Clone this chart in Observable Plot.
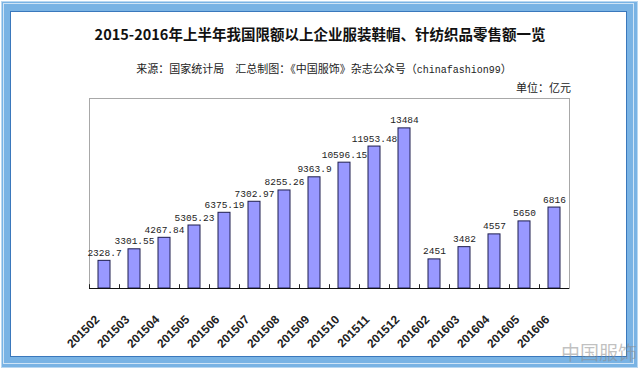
<!DOCTYPE html>
<html>
<head>
<meta charset="utf-8">
<script src="https://cdn.jsdelivr.net/npm/d3@7"></script>
<script src="https://cdn.jsdelivr.net/npm/@observablehq/plot@0.6"></script>
<style>
  html, body { margin: 0; padding: 0; background: #fff; }
  #page { position: relative; width: 640px; height: 370px; overflow: hidden; background: #fff; }
  #outer { position: absolute; left: 1px; top: 1px; width: 635px; height: 365px; background: #79b3e4; border: 1px solid #b8d7f1; }
  #band { position: absolute; left: 3px; top: 3px; width: 631px; height: 361px; border: 1px solid #cfe4f6; box-sizing: border-box; }
  #inner { position: absolute; left: 10px; top: 11px; width: 617px; height: 346px; background: #fff; border: 1.5px solid #3a78bc; box-sizing: border-box; }
  #chart { position: absolute; left: 0; top: 90px; }
  .t { position: absolute; white-space: nowrap; font-family: "Noto Sans CJK SC", sans-serif; color: #111; }
  #title { left: 0; width: 640px; text-align: center; top: 24px; font-size: 14.5px; font-weight: 700; line-height: 20px; }
  #subtitle { left: 0; width: 648px; text-align: center; top: 61px; font-size: 11px; line-height: 15px; color: #222; }
  #subtitle .lat { font-family: "Liberation Mono", monospace; font-size: 10px; }
  #unit { right: 69px; top: 80px; font-size: 11px; line-height: 15px; color: #222; }
  #wm { right: 3px; top: 340px; font-size: 19px; color: rgba(140,140,140,0.55); line-height: 24px; }
</style>
</head>
<body>
<div id="page">
  <div id="outer"></div>
  <div id="band"></div>
  <div id="inner"></div>
  <div id="chart"></div>
  <div class="t" id="title">2015-2016年上半年我国限额以上企业服装鞋帽、针纺织品零售额一览</div>
  <div class="t" id="subtitle">来源：国家统计局　汇总制图：《中国服饰》杂志公众号（<span class="lat">chinafashion99</span>）</div>
  <div class="t" id="unit">单位：亿元</div>
  <div class="t" id="wm">中国服饰</div>
</div>
<script>
const months = ["201502","201503","201504","201505","201506","201507","201508","201509","201510","201511","201512","201602","201603","201604","201605","201606"];
const values = [2328.7, 3301.55, 4267.84, 5305.23, 6375.19, 7302.97, 8255.26, 9363.9, 10596.15, 11953.48, 13484, 2451, 3482, 4557, 5650, 6816];
const valueLabels = ["2328.7","3301.55","4267.84","5305.23","6375.19","7302.97","8255.26","9363.9","10596.15","11953.48","13484","2451","3482","4557","5650","6816"];
const yDomain = [0, 16000];

const data = months.map((m, i) => ({month: m, value: values[i], label: valueLabels[i]}));

const chart = Plot.plot({
  width: 640,
  height: 270,
  marginTop: 8,
  marginBottom: 72,
  marginLeft: 89,
  marginRight: 71,
  style: {background: "transparent"},
  x: {type: "band", domain: months, paddingInner: 0.6, paddingOuter: 0.3, align: 0.5, axis: null},
  y: {domain: yDomain, axis: null},
  marks: [
    Plot.frame({stroke: "#a8a8a8", strokeWidth: 1}),
    Plot.barY(data, {x: "month", y: "value", fill: "#9999ff", stroke: "#1e1e4e", strokeWidth: 1}),
    Plot.ruleX(months, {x: d => d, y1: 0, y2: 320, dx: -15, stroke: "#222"}),
    Plot.ruleY([0], {stroke: "#111", strokeWidth: 1.2}),
    Plot.text(data, {x: "month", y: "value", text: "label", dy: -5, lineAnchor: "bottom", fontSize: 9.5, fontFamily: "Liberation Mono, monospace", fill: "#222"}),
    Plot.text(months, {x: d => d, y: 0, text: d => d, rotate: -45, textAnchor: "end", lineAnchor: "middle", dx: -7, dy: 29, fontSize: 12, fontWeight: "bold", fontFamily: "Liberation Sans, Arial, sans-serif", fill: "#222"})
  ]
});
document.getElementById("chart").appendChild(chart);
</script>
</body>
</html>
